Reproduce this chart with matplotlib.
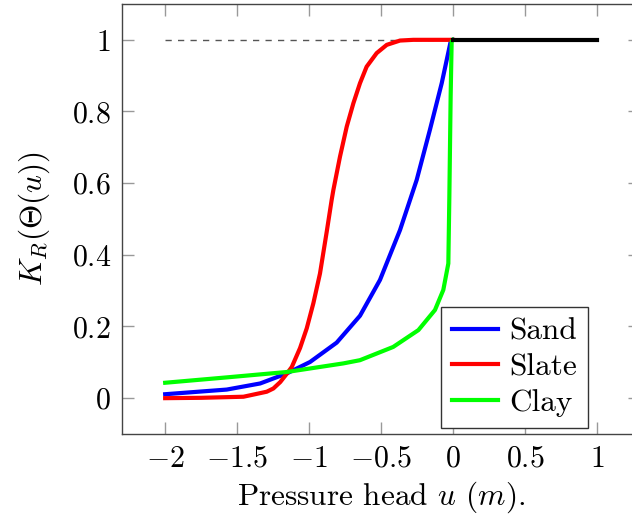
import matplotlib
matplotlib.use("Agg")
import matplotlib.pyplot as plt

# ---- data ----
sand_u = [-2.0, -1.572, -1.34, -1.155, -0.993, -0.808, -0.646, -0.507, -0.368,
          -0.252, -0.16, -0.078, -0.016, 0.0]
sand_k = [0.011, 0.024, 0.041, 0.069, 0.101, 0.155, 0.230, 0.330, 0.469,
          0.609, 0.749, 0.879, 0.995, 1.0]

slate_u = [-2.0, -1.75, -1.456, -1.294, -1.248, -1.2, -1.155, -1.12, -1.0625, -1.016, -0.97, -0.924,
           -0.877, -0.843, -0.831, -0.785, -0.738, -0.692, -0.646, -0.6, -0.53, -0.46, -0.368, -0.276, 0.0]
slate_k = [0.0, 0.001, 0.004, 0.018, 0.027, 0.045, 0.068, 0.087, 0.140, 0.195, 0.265, 0.348,
           0.465, 0.553, 0.581, 0.674, 0.758, 0.823, 0.879, 0.925, 0.963, 0.986, 0.998, 1.0, 1.0]

clay_u = [-2.0, -1.572, -1.155, -0.762, -0.646, -0.415, -0.24, -0.125, -0.067, -0.032, -0.025,
          -0.016, -0.009, 0.0]
clay_k = [0.043, 0.058, 0.073, 0.097, 0.106, 0.143, 0.190, 0.246, 0.302, 0.376, 0.562,
          0.842, 0.995, 1.0]

sat_u = [0.0, 1.0]
sat_k = [1.0, 1.0]
ref_u = [-2.0, 0.0]
ref_k = [1.0, 1.0]

labels = ["Sand", "Slate", "Clay"]
xticks = [-2, -1.5, -1, -0.5, 0, 0.5, 1]
yticks = [0, 0.2, 0.4, 0.6, 0.8, 1]

plt.rcParams["mathtext.fontset"] = "cm"
plt.rcParams["font.family"] = "serif"
plt.rcParams["font.serif"] = ["cmr10", "DejaVu Serif"]
plt.rcParams["axes.unicode_minus"] = True

W, H = 632, 519
fig = plt.figure(figsize=(W / 100, H / 100), dpi=100)
left_px, right_px, top_px, bottom_px = 122, 640, 4, 434
ax = fig.add_axes([left_px / W, 1 - bottom_px / H, (right_px - left_px) / W, (bottom_px - top_px) / H])

fs_tick = 21.5
fs_lab = 22.5
ax.plot(ref_u, ref_k, color="#555555", lw=1.0, linestyle=(0, (4.5, 4.5)), zorder=2)
ax.plot(sand_u, sand_k, color="#0000ff", lw=3, label=labels[0], zorder=3, solid_joinstyle="round")
ax.plot(slate_u, slate_k, color="#ff0000", lw=3, label=labels[1], zorder=3, solid_joinstyle="round")
ax.plot(clay_u, clay_k, color="#00ff00", lw=3, label=labels[2], zorder=3, solid_joinstyle="round")
ax.plot(sat_u, sat_k, color="black", lw=3, zorder=4)

ax.set_xlim(-2.3, 1.3)
ax.set_ylim(-0.1, 1.1)
ax.set_xticks(xticks)
ax.set_yticks(yticks)
ax.set_xticklabels([f"${v:g}$" for v in xticks], fontsize=fs_tick)
ax.set_yticklabels([f"${v:g}$" for v in yticks], fontsize=fs_tick)
ax.tick_params(direction="in", length=8.5, width=1, color="#999999", top=True, right=True, pad=8)

for s in ax.spines.values():
    s.set_color("#444444")
    s.set_linewidth(1.0)

ax.set_xlabel(r"Pressure head $u$ $(m)$.", fontsize=fs_lab, labelpad=5)
ax.set_ylabel(r"$K_R(\Theta(u))$", fontsize=fs_lab, labelpad=14)

leg = ax.legend(loc="lower right", bbox_to_anchor=(588 / W, 1 - 428 / H), bbox_transform=fig.transFigure,
                fontsize=fs_lab, frameon=True, fancybox=False, edgecolor="#333333", framealpha=1,
                handlelength=1.5, handletextpad=0.35, labelspacing=0.25, borderpad=0.35, borderaxespad=0)
leg.get_frame().set_linewidth(1.0)

fig.savefig("out.png", dpi=100)
